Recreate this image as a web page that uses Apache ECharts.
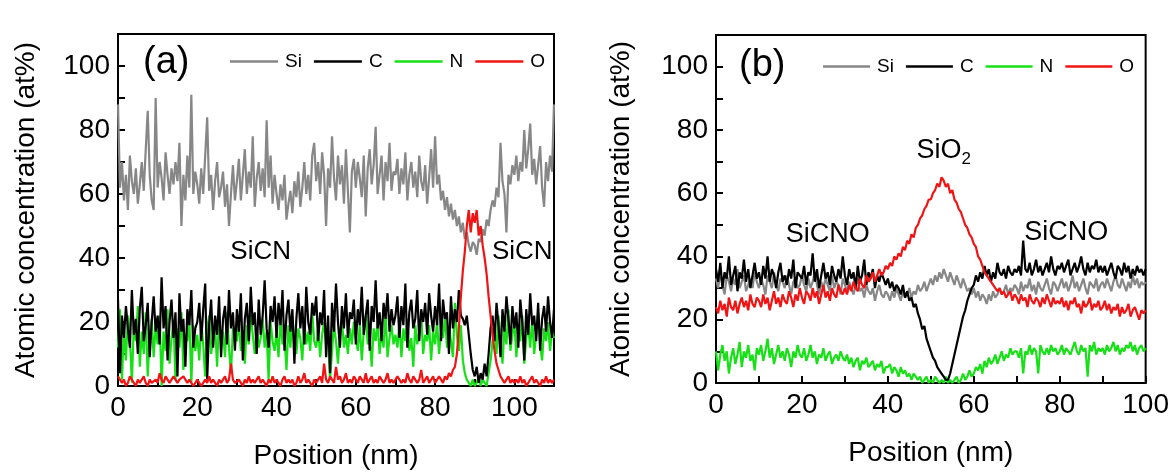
<!DOCTYPE html>
<html><head><meta charset="utf-8">
<script src="https://cdn.jsdelivr.net/npm/echarts@6/dist/echarts.min.js"></script>
<style>html,body{margin:0;padding:0;background:#fff}#c{width:1172px;height:475px}</style>
</head><body><div id="c"></div>
<script>
// ---------- data ----------
const elements = ['Si', 'C', 'N', 'O'];
const stepA = 0.5;   // nm between samples, panel (a)
const stepB = 0.5;   // nm between samples, panel (b)
const yTickLabels = [0, 20, 40, 60, 80, 100];
const xTickLabelsA = [0, 20, 40, 60, 80, 100];
const xTickLabelsB = [0, 20, 40, 60, 80, 100];

// Panel (a): x = 0 .. 110 nm
const siA = [
 88,62,70,58,66,55,72,64,60,68,57,63,70,61,74,86,66,58,55,90,
 62,70,65,58,73,66,60,68,63,70,64,76,50,66,58,72,62,91,60,67,
 63,57,68,60,72,84,61,66,55,64,70,59,62,67,56,63,50,60,69,58,
 64,71,58,66,74,60,67,62,78,56,65,70,61,68,59,83,62,72,57,66,
 60,55,63,58,66,52,57,61,54,64,59,67,56,62,70,60,66,58,72,76,
 64,70,60,73,66,50,68,62,78,65,58,72,63,69,57,74,61,48,67,71,
 62,70,65,59,72,53,68,74,63,69,81,60,66,72,58,70,64,76,61,67,
 66,71,60,68,63,73,58,66,70,62,67,59,72,64,61,69,57,65,74,62,
 78,63,66,58,61,55,59,53,57,52,55,50,53,48,51,46,48,44,42,45,
 44,41,46,45,49,47,52,50,55,58,56,62,59,76,64,60,48,66,63,69,
 66,72,64,70,67,80,68,74,82,66,71,63,69,75,62,56,70,64,72,67,
 88];
const cA = [
 27,4,22,15,25,18,12,30,16,21,10,24,31,14,19,26,9,20,28,17,
 22,13,34,18,25,8,20,27,15,23,3,29,17,21,6,24,19,30,12,18,
 20,26,14,24,32,2,19,27,12,22,16,28,9,21,25,13,30,18,23,11,
 24,17,29,8,21,26,14,31,19,23,10,27,16,22,33,18,12,25,20,28,
 15,26,19,30,11,22,27,17,24,7,21,29,18,25,13,31,20,16,26,22,
 28,14,23,19,30,9,22,4,26,17,32,20,12,25,18,29,15,23,21,27,
 13,24,19,31,16,22,27,11,25,20,33,18,23,14,26,21,29,17,24,19,
 22,28,15,25,19,32,12,23,27,18,21,30,14,24,20,26,16,29,22,17,
 25,19,32,14,27,21,23,10,28,18,24,20,30,22,21,19,22,16,10,5,
 3,6,1,4,2,7,3,10,18,22,14,26,19,9,24,17,28,21,13,25,
 18,23,12,27,20,8,24,16,29,19,22,14,26,11,21,25,17,28,20,15,
 24];
const nA = [
 12,24,2,18,8,22,15,1,20,14,25,6,17,10,23,3,16,21,9,19,
 13,22,0,17,11,24,7,15,20,2,18,12,23,5,16,14,21,1,19,11,
 16,8,20,13,3,18,22,10,15,19,6,21,14,17,9,23,12,4,18,15,
 14,20,11,17,7,19,13,22,16,10,18,12,15,21,12,17,2,20,14,11,
 17,9,21,13,16,5,19,12,22,14,10,18,15,8,20,13,17,11,23,14,
 12,18,9,16,20,13,15,2,11,19,14,7,17,21,12,16,10,18,13,20,
 15,11,19,8,17,22,13,16,6,18,14,20,10,17,12,23,9,15,19,13,
 16,12,20,9,18,14,21,11,15,6,19,13,17,22,10,16,14,19,8,17,
 13,20,10,17,15,22,12,18,14,9,26,16,11,19,8,4,2,1,0,2,
 0,1,3,0,2,1,0,4,8,14,19,10,22,15,7,18,13,24,11,16,
 20,9,17,14,22,7,15,19,12,21,10,16,23,13,8,18,14,20,11,17,
 15];
const oA = [
 3,2,1,2,0,1,3,2,1,0,2,1,2,3,1,0,2,1,1,2,
 1,4,2,1,3,2,1,2,3,2,1,2,2,3,2,1,2,1,0,1,
 2,1,0,1,2,1,3,1,2,1,0,2,1,2,3,1,2,7,2,1,
 1,2,1,0,2,1,3,1,2,1,2,3,1,2,1,0,2,1,3,1,
 2,1,0,2,3,1,2,1,2,0,1,3,1,2,4,1,2,1,0,2,
 1,2,3,1,7,2,1,3,2,1,6,2,3,1,2,4,1,2,1,3,
 2,1,3,2,1,4,1,2,3,1,2,1,3,2,1,2,4,1,2,1,
 1,3,2,1,2,1,4,2,1,3,2,1,2,5,1,2,3,1,2,3,
 1,2,3,2,1,3,2,4,3,5,6,10,18,28,36,42,50,55,48,54,
 51,55,47,50,44,40,35,28,22,16,11,7,5,3,2,1,2,3,1,2,
 1,2,1,3,1,2,0,1,2,3,1,2,1,0,2,1,3,1,2,1,
 2];

// Panel (b): x = 0 .. 100 nm
const siB = [
 33,30,35,31,28,34,32,29,33,31,36,30,32,34,29,31,33,30,35,32,
 30,33,31,28,34,32,30,35,31,29,33,32,30,34,31,28,32,33,30,31,
 34,31,29,33,30,32,35,31,28,32,30,33,31,29,34,30,32,31,28,33,
 31,29,32,30,28,31,33,29,30,27,31,29,28,30,26,29,31,28,27,29,
 28,26,29,27,30,28,26,29,27,28,30,27,29,28,31,29,30,32,29,31,
 33,31,34,32,35,33,36,34,32,35,33,31,34,32,30,33,31,29,30,28,
 30,27,29,26,28,27,25,28,26,29,27,28,30,28,29,31,28,30,29,31,
 30,28,32,29,31,30,33,29,31,28,32,30,29,31,33,30,28,32,31,29,
 31,33,30,32,29,31,34,30,32,29,31,33,30,28,32,31,30,33,29,31,
 32,30,33,31,29,32,34,31,30,33,31,29,32,30,34,31,33,30,32,31,
 32];
const cB = [
 36,32,38,30,35,33,40,31,34,37,29,35,33,39,32,36,30,34,38,33,
 35,31,37,33,40,32,36,34,30,35,38,32,34,31,36,33,39,30,35,34,
 33,37,31,35,34,41,32,36,30,34,38,33,35,31,37,34,32,36,33,40,
 34,31,36,33,35,30,37,32,34,39,31,35,33,36,30,34,32,35,33,31,
 33,30,32,29,31,30,28,31,27,29,26,27,24,25,22,20,17,18,14,12,
 10,8,7,5,4,3,2,1,1,3,6,9,12,15,18,21,23,26,28,30,
 31,34,32,35,33,37,34,36,32,35,33,38,35,34,36,33,37,35,34,36,
 35,37,34,45,36,35,38,34,36,39,35,37,34,36,38,35,40,36,34,37,
 36,38,35,37,39,34,36,38,35,37,40,36,34,38,35,37,36,39,35,37,
 35,37,34,36,38,35,33,37,36,34,38,35,37,33,36,34,37,35,36,34,
 36];
const nB = [
 10,4,9,12,7,10,3,8,11,6,9,13,5,10,8,12,7,9,4,11,
 9,12,7,10,14,8,11,6,9,12,8,10,7,11,9,5,10,8,12,9,
 8,11,7,9,12,8,10,6,9,8,11,7,9,10,6,8,9,7,10,8,
 7,9,6,8,5,7,8,4,7,6,8,5,6,7,4,6,5,7,3,5,
 5,6,3,5,4,2,5,3,4,2,3,1,3,2,1,2,0,1,2,0,
 1,0,2,1,0,1,0,2,0,1,0,1,2,0,1,3,1,2,4,2,
 3,5,4,6,3,7,5,8,6,7,9,6,8,10,7,9,8,11,9,10,
 10,8,11,3,10,9,12,9,11,10,3,12,10,9,11,9,12,10,11,9,
 10,12,9,11,10,9,11,13,10,9,12,10,11,2,12,10,13,9,11,10,
 11,9,12,10,11,13,10,12,9,11,10,12,11,13,10,12,9,11,12,10,
 11];
const oB = [
 24,22,26,23,25,21,27,24,23,26,22,25,27,24,26,23,28,25,24,27,
 26,24,28,25,27,23,26,29,25,27,24,28,26,25,29,27,24,28,26,30,
 27,25,29,28,26,30,27,29,25,28,31,27,29,26,30,28,27,31,29,28,
 30,28,31,29,32,30,29,33,31,30,34,32,33,35,32,34,36,34,35,37,
 36,38,37,40,39,41,40,43,42,45,44,47,46,49,50,52,53,55,56,58,
 58,60,61,63,62,65,64,62,63,60,61,58,57,55,54,52,50,49,47,46,
 44,43,40,39,37,35,34,33,32,31,30,29,30,28,29,27,28,29,26,28,
 27,25,28,26,27,24,28,26,25,27,26,24,27,25,28,26,24,27,25,26,
 25,27,24,26,23,26,25,27,24,25,22,26,24,25,27,23,25,24,26,23,
 24,26,23,25,22,24,23,25,21,24,22,23,25,21,23,24,22,20,23,22,
 23];

// text annotations (data coordinates)
const labelsA = [{ text: 'SiCN', x: 36, y: 42 }, { text: 'SiCN', x: 102, y: 42 }];
const labelsB = [{ text: 'SiCNO', x: 26, y: 47 }, { text: 'SiO2', x: 53, y: 73 }, { text: 'SiCNO', x: 81.5, y: 47.5 }];

// ---------- styling ----------
const FONT = '"Liberation Sans", Arial, Helvetica, sans-serif';
const colors = { Si: '#878787', C: '#000000', N: '#17e017', O: '#f01414' };
const drawOrder = ['Si', 'N', 'C', 'O'];

function pairs(arr, step) { return arr.map((v, i) => [i * step, v]); }
const dataA = { Si: siA, C: cA, N: nA, O: oA };
const dataB = { Si: siB, C: cB, N: nB, O: oB };

function xAxis(gi, max, ticks) {
  return {
    type: 'value', gridIndex: gi, min: 0, max: max, interval: 10,
    name: 'Position (nm)', nameLocation: 'middle', nameGap: 56,
    nameTextStyle: { fontSize: 28, color: '#000', fontFamily: FONT },
    axisLine: { show: true, lineStyle: { color: '#000', width: 2 } },
    axisTick: { show: true, inside: true, length: 7, lineStyle: { color: '#000', width: 2 } },
    axisLabel: { fontSize: 28, color: '#000', fontFamily: FONT, margin: 8,
      formatter: v => ticks.includes(v) ? String(v) : '' },
    splitLine: { show: false }
  };
}
function yAxis(gi, gap) {
  return {
    type: 'value', gridIndex: gi, min: 0, max: 110, interval: 10,
    name: 'Atomic concentration (at%)', nameLocation: 'middle', nameGap: gap,
    nameTextStyle: { fontSize: 28, color: '#000', fontFamily: FONT },
    axisLine: { show: true, lineStyle: { color: '#000', width: 2 } },
    axisTick: { show: true, inside: true, length: 7, lineStyle: { color: '#000', width: 2 } },
    axisLabel: { fontSize: 28, color: '#000', fontFamily: FONT, margin: 8,
      formatter: v => yTickLabels.includes(v) ? String(v) : '' },
    splitLine: { show: false }
  };
}

const series = [];
[[dataA, stepA, 0], [dataB, stepB, 1]].forEach(([d, step, gi]) => {
  drawOrder.forEach(el => {
    series.push({
      type: 'line', name: el, xAxisIndex: gi, yAxisIndex: gi,
      data: pairs(d[el], step), symbol: 'none', showSymbol: false,
      lineStyle: { color: colors[el], width: 2.2 }, itemStyle: { color: colors[el] },
      silent: true, animation: false
    });
  });
});

const legendBase = {
  data: elements, selectedMode: false, orient: 'horizontal',
  icon: 'rect', itemHeight: 2.5, itemGap: 12,
  textStyle: { fontSize: 19, color: '#000', fontFamily: FONT, padding: [0, 0, 0, 2] }
};

const option = {
  animation: false,
  backgroundColor: '#fff',
  grid: [
    { left: 118, top: 34, width: 436, height: 352, show: true, borderColor: '#000', borderWidth: 2, containLabel: false },
    { left: 716, top: 35, width: 431, height: 348, show: true, borderColor: '#000', borderWidth: 2, containLabel: false }
  ],
  xAxis: [xAxis(0, 110, xTickLabelsA), xAxis(1, 100, xTickLabelsB)],
  yAxis: [yAxis(0, 78), yAxis(1, 81)],
  legend: [
    Object.assign({}, legendBase, { left: 225, top: 47 }, { itemWidth: 48 }),
    Object.assign({}, legendBase, { left: 818, top: 52 }, { itemWidth: 47 })
  ],
  series: series
};

const chart = echarts.init(document.getElementById('c'), null, { renderer: 'canvas' });
chart.setOption(option);

// place annotations at their data coordinates through the axes
const graphics = [
  { type: 'text', left: 143, top: 44, style: { text: '(a)', fontSize: 38, fill: '#000', fontFamily: FONT } },
  { type: 'text', left: 739, top: 47, style: { text: '(b)', fontSize: 38, fill: '#000', fontFamily: FONT } }
];
function addLabels(list, gi, size) {
  list.forEach(l => {
    const p = chart.convertToPixel({ xAxisIndex: gi, yAxisIndex: gi }, [l.x, l.y]);
    const isOx = l.text === 'SiO2';
    graphics.push({
      type: 'text', x: p[0], y: p[1], z: 10,
      style: {
        text: isOx ? '{n|SiO}{s|2}' : l.text,
        fontSize: size, fill: '#000', fontFamily: FONT,
        align: 'center', verticalAlign: 'middle',
        rich: isOx ? {
          n: { fontSize: size, fill: '#000', fontFamily: FONT, padding: [0, 0, 4, 0] },
          s: { fontSize: 17, fill: '#000', fontFamily: FONT, verticalAlign: 'bottom' }
        } : undefined
      }
    });
  });
}
addLabels(labelsA, 0, 26);
addLabels(labelsB, 1, 27);
chart.setOption({ graphic: graphics });
</script>
</body></html>
